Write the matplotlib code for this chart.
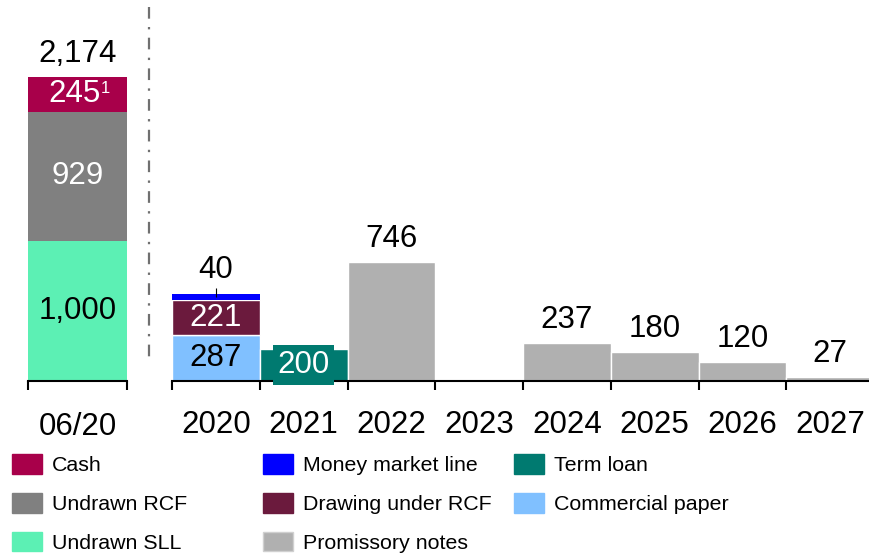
import matplotlib
matplotlib.use("Agg")
import matplotlib.pyplot as plt
from matplotlib.patches import Patch
from matplotlib.lines import Line2D

plt.rcParams['font.family'] = ['Liberation Sans', 'DejaVu Sans']

# Data
left_cat = ['06/20']
undrawn_sll = [1000]
undrawn_rcf = [929]
cash = [245]
left_total = ['2,174']

years = ['2020', '2021', '2022', '2023', '2024', '2025', '2026', '2027']
commercial_paper = [287, 0, 0, 0, 0, 0, 0, 0]
drawing_rcf = [221, 0, 0, 0, 0, 0, 0, 0]
money_market = [40, 0, 0, 0, 0, 0, 0, 0]
term_loan = [0, 200, 0, 0, 0, 0, 0, 0]
promissory = [0, 0, 746, 0, 237, 180, 120, 27]

# Colours
c_cash = '#a8004a'
c_rcf = '#808080'
c_sll = '#5cf0b4'
c_mml = '#0000ff'
c_draw = '#6b1a3d'
c_prom = '#b0b0b0'
c_term = '#007a70'
c_cp = '#80c0ff'

W, H = 869, 555
fig = plt.figure(figsize=(W / 100, H / 100), dpi=100)


def px_axes(x0, y0, x1, y1):
    return fig.add_axes([x0 / W, 1 - y1 / H, (x1 - x0) / W, (y1 - y0) / H])


base = 381
ax_l = px_axes(28, 0, 127, base)
ax_r = px_axes(172, 0, 874, base)

ax_l.set_ylim(0, base / 0.1397)
ax_r.set_ylim(0, base / 0.1595)

for ax in (ax_l, ax_r):
    for s in ('top', 'left', 'right'):
        ax.spines[s].set_visible(False)
    ax.spines['bottom'].set_linewidth(1.5)
    ax.set_yticks([])
    ax.patch.set_alpha(0)

FS = 22.5

# Left bar
ax_l.set_xlim(-0.5, 0.5)
ax_l.bar(left_cat, undrawn_sll, width=1, color=c_sll)
ax_l.bar(left_cat, undrawn_rcf, width=1, bottom=undrawn_sll, color=c_rcf)
bot = [a + b for a, b in zip(undrawn_sll, undrawn_rcf)]
ax_l.bar(left_cat, cash, width=1, bottom=bot, color=c_cash)
ax_l.text(0, undrawn_sll[0] / 2, '1,000', ha='center', va='center', fontsize=FS, color='black')
ax_l.text(0, undrawn_sll[0] + undrawn_rcf[0] / 2, str(undrawn_rcf[0]), ha='center', va='center',
          fontsize=FS, color='white')
ax_l.text(-0.03, bot[0] + cash[0] / 2, str(cash[0]), ha='center', va='center',
          fontsize=FS, color='white')
ax_l.annotate('1', (-0.03, bot[0] + cash[0] / 2), xytext=(19, 4), textcoords='offset points',
              ha='left', va='center', fontsize=12, color='white')
top_l = bot[0] + cash[0]
ax_l.annotate(left_total[0], (0, top_l), xytext=(0, 16.5), textcoords='offset points',
              ha='center', va='center', fontsize=FS)
ax_l.set_xticks([-0.5, 0.5])
ax_l.set_xticklabels(['', ''])
ax_l.set_xticks([0], minor=True)
ax_l.set_xticklabels(left_cat, minor=True)
ax_l.tick_params(axis='x', which='major', direction='out', length=6.5, width=1.5)
ax_l.tick_params(axis='x', which='minor', length=0, pad=22, labelsize=FS)

# Right bars
x = list(range(len(years)))
kw = dict(width=1, edgecolor='white', linewidth=1)
ax_r.set_xlim(-0.5, 7.5)
ax_r.bar(x, commercial_paper, color=c_cp, **kw)
ax_r.bar(x, drawing_rcf, bottom=commercial_paper, color=c_draw, **kw)
b2 = [a + b for a, b in zip(commercial_paper, drawing_rcf)]
ax_r.bar(x, money_market, bottom=b2, color=c_mml, width=1, edgecolor='none')
ax_r.bar(x, term_loan, color=c_term, **kw)
ax_r.bar(x, promissory, color=c_prom, **kw)

ax_r.text(0, commercial_paper[0] / 2, str(commercial_paper[0]), ha='center', va='center',
          fontsize=FS, color='black')
ax_r.text(0, commercial_paper[0] + drawing_rcf[0] / 2, str(drawing_rcf[0]), ha='center',
          va='center', fontsize=FS, color='white')
top0 = b2[0] + money_market[0]
ax_r.vlines(0, top0 - 20, top0 + 35, color='black', linewidth=0.8)
ax_r.annotate(str(money_market[0]), (0, top0), xytext=(0, 17), textcoords='offset points',
              ha='center', va='center', fontsize=FS)
ax_r.text(1, term_loan[1] / 2, str(term_loan[1]), ha='center', va='center', fontsize=FS,
          color='white', bbox=dict(boxstyle='square,pad=0.15', fc=c_term, ec='none'))
for i, v in enumerate(promissory):
    if v > 0:
        ax_r.annotate(str(v), (i, v), xytext=(0, 16.5), textcoords='offset points',
                      ha='center', va='center', fontsize=FS)

ax_r.set_xticks([i - 0.5 for i in x] + [7.5])
ax_r.set_xticklabels([''] * (len(x) + 1))
ax_r.set_xticks(x, minor=True)
ax_r.set_xticklabels(years, minor=True)
ax_r.tick_params(axis='x', which='major', direction='out', length=6.5, width=1.5)
ax_r.tick_params(axis='x', which='minor', length=0, pad=21, labelsize=FS)

# Separator
lw = 1.6
fig.add_artist(Line2D([149 / W, 149 / W], [1 - 7 / H, 1 - 358 / H], transform=fig.transFigure,
                      color='#707070', linewidth=lw,
                      linestyle=(0, (8.4 / lw, 6 / lw, 1.7 / lw, 6 / lw))))

# Legend, three columns
cols = [
    ([('Cash', c_cash), ('Undrawn RCF', c_rcf), ('Undrawn SLL', c_sll)], 12),
    ([('Money market line', c_mml), ('Drawing under RCF', c_draw), ('Promissory notes', c_prom)], 263),
    ([('Term loan', c_term), ('Commercial paper', c_cp)], 514),
]
for items, x0 in cols:
    handles = [Patch(facecolor=c, edgecolor=('#d0d0d0' if c == c_prom else c), linewidth=1)
               for _, c in items]
    fig.legend(handles, [t for t, _ in items], loc='upper left',
               bbox_to_anchor=(x0 / W, 1 - 454 / H), frameon=False, fontsize=15.4,
               handlelength=1.4, handleheight=1.05, handletextpad=0.48,
               labelspacing=0.82, borderpad=0, borderaxespad=0)

fig.savefig('out.png', dpi=100)
